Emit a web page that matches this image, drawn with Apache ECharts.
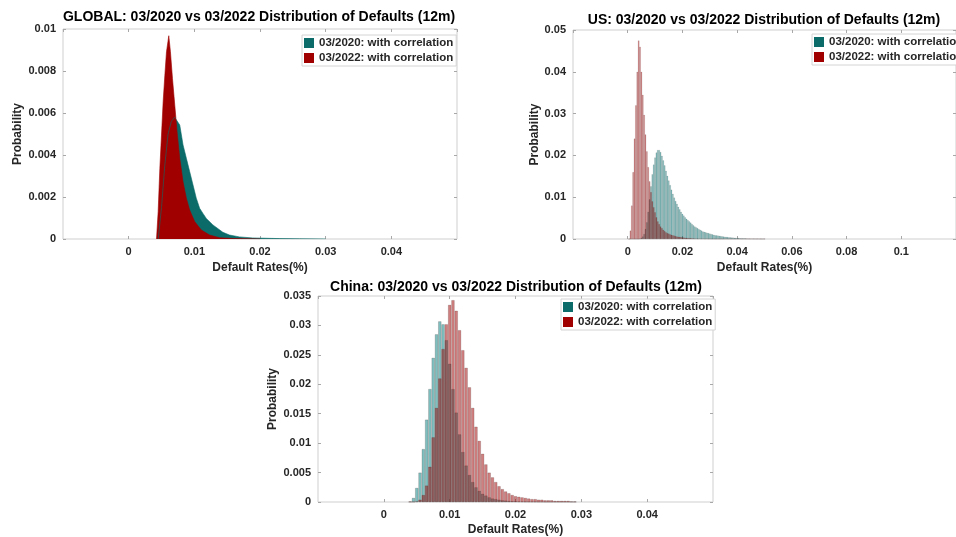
<!DOCTYPE html>
<html>
<head>
<meta charset="utf-8">
<script src="https://cdn.jsdelivr.net/npm/echarts@6/dist/echarts.min.js"></script>
<style>
html, body { margin: 0; padding: 0; background: #fff; overflow: hidden; }
#main { width: 956px; height: 537px; }
</style>
</head>
<body>
<div id="main"></div>
<script>
var NAME_2020 = '03/2020: with correlation';
var NAME_2022 = '03/2022: with correlation';

// GLOBAL panel, outline points
var globalTealX = [0.0045, 0.005, 0.0055, 0.006, 0.0065, 0.007, 0.00727, 0.00778, 0.00828, 0.00879, 0.00929, 0.0098, 0.0103, 0.01081, 0.01131, 0.01182, 0.01283, 0.01434, 0.01535, 0.01687, 0.01889, 0.02293, 0.026, 0.03];
var globalTealY = [0, 0.0015, 0.0035, 0.005, 0.0056, 0.0058, 0.00578, 0.00543, 0.00448, 0.00384, 0.00321, 0.00257, 0.00194, 0.00146, 0.00122, 0.00098, 0.00067, 0.00032, 0.00019, 0.0001, 0.00005, 0.00002, 0.00001, 0];
var globalRedX = [0.00424, 0.00449, 0.00475, 0.005, 0.00525, 0.00551, 0.00576, 0.00611, 0.00636, 0.00667, 0.00702, 0.00737, 0.00778, 0.00828, 0.00879, 0.00929, 0.01005, 0.01106, 0.01232, 0.01384, 0.016, 0.02];
var globalRedY = [0, 0.0013, 0.00337, 0.00495, 0.00654, 0.0078, 0.00892, 0.00968, 0.00892, 0.00765, 0.00638, 0.00511, 0.00384, 0.00273, 0.00194, 0.00138, 0.00083, 0.00043, 0.00019, 0.00006, 0.00002, 0];

// US panel, histogram bins (width 0.0005)
var usBins = [0.0005, 0.0010, 0.0015, 0.0020, 0.0025, 0.0030, 0.0035, 0.0040, 0.0045, 0.0050,
  0.0055, 0.0060, 0.0065, 0.0070, 0.0075, 0.0080, 0.0085, 0.0090, 0.0095, 0.0100,
  0.0105, 0.0110, 0.0115, 0.0120, 0.0125, 0.0130, 0.0135, 0.0140, 0.0145, 0.0150,
  0.0155, 0.0160, 0.0165, 0.0170, 0.0175, 0.0180, 0.0185, 0.0190, 0.0195, 0.0200,
  0.0205, 0.0210, 0.0215, 0.0220, 0.0225, 0.0230, 0.0235, 0.0240, 0.0245, 0.0250,
  0.0255, 0.0260, 0.0265, 0.0270, 0.0275, 0.0280, 0.0285, 0.0290, 0.0295, 0.0300,
  0.0305, 0.0310, 0.0315, 0.0320, 0.0325, 0.0330, 0.0335, 0.0340, 0.0345, 0.0350,
  0.0355, 0.0360, 0.0365, 0.0370, 0.0375, 0.0380, 0.0385, 0.0390, 0.0395, 0.0400,
  0.0405, 0.0410, 0.0415, 0.0420, 0.0425, 0.0430, 0.0435, 0.0440, 0.0445, 0.0450,
  0.0455, 0.0460, 0.0465, 0.0470, 0.0475, 0.0480, 0.0485, 0.0490, 0.0495, 0.0500];
var usTeal = [0, 0, 0, 0, 0, 0, 0, 0, 0.0001, 0.0003,
  0.0006, 0.0012, 0.0024, 0.004, 0.0065, 0.0095, 0.0126, 0.0155, 0.0178, 0.0195,
  0.0207, 0.0213, 0.0213, 0.0208, 0.0199, 0.0188, 0.0176, 0.0163, 0.0151, 0.014,
  0.0129, 0.0118, 0.0108, 0.0099, 0.0091, 0.0084, 0.0077, 0.0071, 0.0065, 0.006,
  0.0056, 0.0052, 0.0048, 0.0045, 0.0042, 0.0039, 0.0036, 0.0033, 0.003, 0.0028,
  0.0026, 0.0024, 0.0022, 0.002, 0.0018, 0.0017, 0.0016, 0.0015, 0.0014, 0.0013,
  0.0012, 0.0011, 0.001, 0.0009, 0.00085, 0.0008, 0.00075, 0.0007, 0.00065, 0.0006,
  0.00055, 0.0005, 0.00045, 0.0004, 0.00038, 0.00035, 0.00032, 0.0003, 0.00028, 0.00025,
  0.00023, 0.0002, 0.00019, 0.00018, 0.00016, 0.00015, 0.00013, 0.00012, 0.00011, 0.0001,
  0.00009, 0.00009, 0.00008, 0.00007, 0.00007, 0.00006, 0.00006, 0.00005, 0.00005, 0.00004];
var usRed = [0, 0.002, 0.008, 0.016, 0.024, 0.032, 0.04, 0.0475, 0.046, 0.04,
  0.0345, 0.0297, 0.025, 0.021, 0.0172, 0.0138, 0.0112, 0.009, 0.0076, 0.0064,
  0.0052, 0.0042, 0.0036, 0.003, 0.0026, 0.0022, 0.0019, 0.0016, 0.0014, 0.0013,
  0.0011, 0.001, 0.0009, 0.0008, 0.0007, 0.0006, 0.00055, 0.0005, 0.00045, 0.0004,
  0.00035, 0.0003, 0.00028, 0.00025, 0.00022, 0.0002, 0.00018, 0.00015, 0.00013, 0.00012,
  0.0001, 0.0001, 0.00009, 0.00008, 0.00007, 0.00005, 0.00005, 0.00004, 0.00004, 0.00003,
  0, 0, 0, 0, 0, 0, 0, 0, 0, 0,
  0, 0, 0, 0, 0, 0, 0, 0, 0, 0,
  0, 0, 0, 0, 0, 0, 0, 0, 0, 0,
  0, 0, 0, 0, 0, 0, 0, 0, 0, 0];

// China panel, histogram bins (width 0.0005)
var cnBins = [0.0040, 0.0045, 0.0050, 0.0055, 0.0060, 0.0065, 0.0070, 0.0075, 0.0080, 0.0085,
  0.0090, 0.0095, 0.0100, 0.0105, 0.0110, 0.0115, 0.0120, 0.0125, 0.0130, 0.0135,
  0.0140, 0.0145, 0.0150, 0.0155, 0.0160, 0.0165, 0.0170, 0.0175, 0.0180, 0.0185,
  0.0190, 0.0195, 0.0200, 0.0205, 0.0210, 0.0215, 0.0220, 0.0225, 0.0230, 0.0235,
  0.0240, 0.0245, 0.0250, 0.0255, 0.0260, 0.0265, 0.0270, 0.0275, 0.0280, 0.0285, 0.0290];
var cnTeal = [0.0001, 0.0007, 0.0024, 0.005, 0.009, 0.014, 0.0192, 0.0245, 0.0285, 0.0307,
  0.0302, 0.0275, 0.0235, 0.0192, 0.0152, 0.0115, 0.0085, 0.0062, 0.0046, 0.0034,
  0.0025, 0.0019, 0.0014, 0.0011, 0.0008, 0.0006, 0.0005, 0.0004, 0.0003, 0.00025,
  0.0002, 0.00015, 0.00012, 0.0001, 0.00008, 0.00006, 0.00005, 0.00004, 0.00003, 0.00002,
  0.00002, 0, 0, 0, 0, 0, 0, 0, 0, 0, 0];
var cnRed = [0, 0, 0.0001, 0.0004, 0.0012, 0.0028, 0.006, 0.011, 0.016, 0.021,
  0.026, 0.0302, 0.0335, 0.0343, 0.0325, 0.0292, 0.0258, 0.0228, 0.0195, 0.016,
  0.0128, 0.0104, 0.0082, 0.0064, 0.005, 0.0042, 0.0034, 0.0027, 0.0022, 0.0018,
  0.0015, 0.0012, 0.001, 0.0009, 0.0008, 0.0007, 0.0006, 0.0005, 0.0005, 0.0004,
  0.0004, 0.0003, 0.0003, 0.0003, 0.0002, 0.0002, 0.0002, 0.0002, 0.0002, 0.0001, 0.0001];

var FONT = 'Arial, "Liberation Sans", sans-serif';
var TEXT = '#262626';
var teal = '#0b6b69';
var red = '#a00000';

function pairs(xs, ys) {
  return xs.map(function (x, i) { return [x, ys[i]]; });
}

var panels = [
  {
    title: 'GLOBAL: 03/2020 vs 03/2022 Distribution of Defaults (12m)',
    grid: { left: 63, top: 29, width: 394, height: 210 },
    x: [-0.01, 0.05, 0.01], y: [0, 0.01, 0.002],
    titleX: 259, titleY: 10, legendX: 302, legendY: 35, yGap: 39, xGap: 23
  },
  {
    title: 'US: 03/2020 vs 03/2022 Distribution of Defaults (12m)',
    grid: { left: 573, top: 30, width: 395, height: 209 },
    x: [-0.02, 0.12, 0.02], y: [0, 0.05, 0.01], bin: 0.0005, edge: 0.35,
    titleX: 764, titleY: 13, legendX: 812, legendY: 34, yGap: 30, xGap: 23
  },
  {
    title: 'China: 03/2020 vs 03/2022 Distribution of Defaults (12m)',
    grid: { left: 318, top: 296, width: 395, height: 207 },
    x: [-0.01, 0.05, 0.01], y: [0, 0.035, 0.005], bin: 0.0005, edge: 0.6,
    titleX: 516, titleY: 280, legendX: 561, legendY: 299, yGap: 39, xGap: 22
  }
];

var option = {
  animation: false,
  textStyle: { fontFamily: FONT },
  title: [], legend: [], grid: [], xAxis: [], yAxis: [], series: []
};

panels.forEach(function (p, i) {
  option.title.push({
    text: p.title, left: p.titleX, top: p.titleY, textAlign: 'center', padding: 0,
    textStyle: { fontSize: 14, fontWeight: 'bold', color: '#000', fontFamily: FONT }
  });
  option.legend.push({
    orient: 'vertical', left: p.legendX, top: p.legendY,
    padding: [2, 3, 2, 2], itemGap: 3, itemWidth: 10, itemHeight: 10, icon: 'rect',
    borderColor: '#d4d4d4', borderWidth: 1, backgroundColor: '#fff', selectedMode: false,
    textStyle: { fontSize: 11.5, fontWeight: 'bold', color: TEXT, lineHeight: 12, fontFamily: FONT },
    data: [
      { name: NAME_2020, itemStyle: { color: teal, opacity: 1, borderWidth: 0 } },
      { name: NAME_2022, itemStyle: { color: red, opacity: 1, borderWidth: 0 } }
    ]
  });
  option.grid.push(Object.assign({ show: true, borderColor: '#cfcfcf', borderWidth: 1, backgroundColor: 'transparent' }, p.grid));

  var tick = { show: true, inside: true, length: 3, lineStyle: { color: '#a8a8a8' } };
  var noLine = { show: false, onZero: false };
  option.xAxis.push({
    type: 'value', gridIndex: i, position: 'bottom',
    min: p.x[0], max: p.x[1], interval: p.x[2],
    axisLine: noLine, axisTick: tick, splitLine: { show: false },
    axisLabel: { show: true, showMinLabel: false, showMaxLabel: false, margin: 7,
      fontSize: 11, fontWeight: 'bold', color: TEXT, fontFamily: FONT },
    name: 'Default Rates(%)', nameLocation: 'middle', nameGap: p.xGap,
    nameTextStyle: { fontSize: 12, fontWeight: 'bold', color: TEXT, fontFamily: FONT, verticalAlign: 'top' }
  });
  option.xAxis.push({
    type: 'value', gridIndex: i, position: 'top',
    min: p.x[0], max: p.x[1], interval: p.x[2],
    axisLine: noLine, axisTick: tick, splitLine: { show: false }, axisLabel: { show: false }
  });
  option.yAxis.push({
    type: 'value', gridIndex: i, position: 'left',
    min: p.y[0], max: p.y[1], interval: p.y[2],
    axisLine: noLine, axisTick: tick, splitLine: { show: false },
    axisLabel: { margin: 7, fontSize: 11, fontWeight: 'bold', color: TEXT, fontFamily: FONT },
    name: 'Probability', nameLocation: 'middle', nameGap: p.yGap, nameRotate: 90,
    nameTextStyle: { fontSize: 12, fontWeight: 'bold', color: TEXT, fontFamily: FONT }
  });
  option.yAxis.push({
    type: 'value', gridIndex: i, position: 'right',
    min: p.y[0], max: p.y[1], interval: p.y[2],
    axisLine: noLine, axisTick: tick, splitLine: { show: false }, axisLabel: { show: false }
  });
});

// GLOBAL: solid filled outlines
[[NAME_2020, globalTealX, globalTealY, teal], [NAME_2022, globalRedX, globalRedY, red]].forEach(function (s) {
  option.series.push({
    name: s[0], type: 'line', xAxisIndex: 0, yAxisIndex: 0,
    data: pairs(s[1], s[2]), symbol: 'none', silent: true,
    lineStyle: { color: s[3], width: 0.6 },
    itemStyle: { color: s[3] },
    areaStyle: { color: s[3], opacity: 1 }
  });
});

// US and China: translucent histograms with thin edges
function histSeries(name, bins, vals, axis, p, fill) {
  var bw = p.bin / (p.x[1] - p.x[0]) * p.grid.width;
  return {
    name: name, type: 'bar', xAxisIndex: axis, yAxisIndex: axis,
    data: pairs(bins, vals), barWidth: bw, barGap: '-100%', silent: true,
    itemStyle: { color: fill, borderColor: 'rgba(40,0,0,0.28)', borderWidth: p.edge }
  };
}
option.series.push(histSeries(NAME_2020, usBins, usTeal, 2, panels[1], 'rgba(0,128,128,0.5)'));
option.series.push(histSeries(NAME_2022, usBins, usRed, 2, panels[1], 'rgba(160,0,0,0.5)'));
option.series.push(histSeries(NAME_2020, cnBins, cnTeal, 4, panels[2], 'rgba(0,128,128,0.5)'));
option.series.push(histSeries(NAME_2022, cnBins, cnRed, 4, panels[2], 'rgba(160,0,0,0.5)'));

var chart = echarts.init(document.getElementById('main'), null, { renderer: 'canvas' });
chart.setOption(option);
</script>
</body>
</html>
